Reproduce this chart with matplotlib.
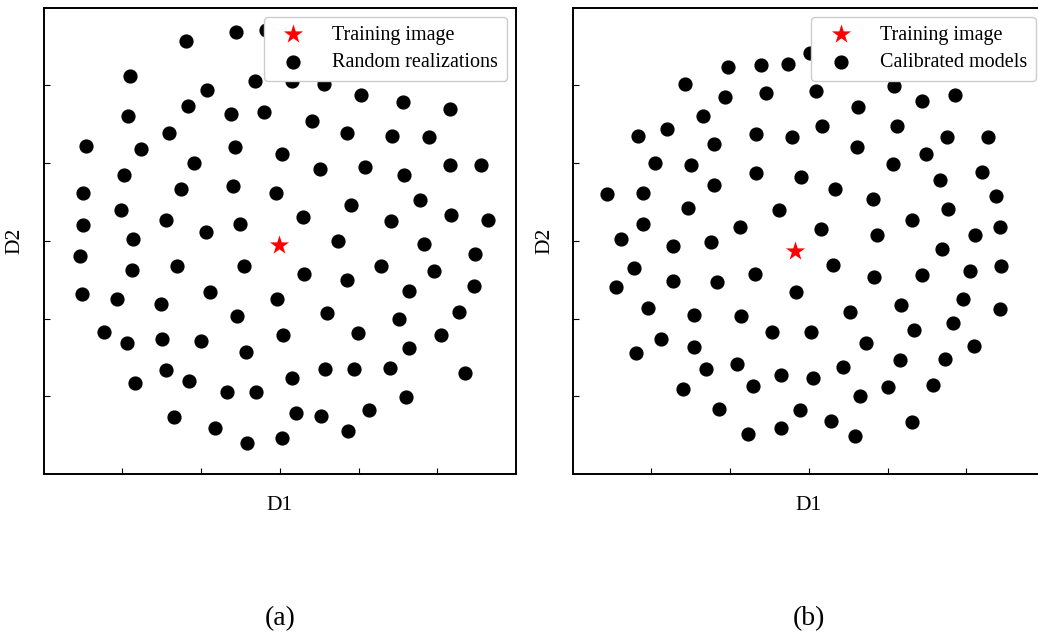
import matplotlib.pyplot as plt

plt.rcParams['font.family'] = ['Liberation Serif', 'DejaVu Serif']

# (a) random realizations, MDS coordinates
rand_d1 = [2.44, 2.83, 1.81, 1.10, 2.69, 3.16, 3.56, 4.03, 4.56, 5.16,
           2.07, 1.83, 1.07, 2.38, 2.80, 3.41, 3.86, 4.42, 4.90, 1.59,
           0.54, 1.24, 2.43, 3.03, 1.91, 3.51, 4.08, 4.58, 5.16, 5.56,
           1.02, 0.50, 1.74, 2.41, 2.95, 3.90, 4.78, 0.98, 1.55, 0.50,
           2.50, 3.30, 4.41, 5.18, 5.64, 2.06, 1.14, 3.74, 4.83, 0.46,
           5.48, 1.13, 1.69, 2.55, 3.31, 4.28, 3.86, 4.96, 0.49, 0.93,
           1.49, 2.11, 2.97, 4.64, 5.47, 2.46, 3.60, 4.51, 5.27, 0.77,
           1.06, 1.50, 2.00, 3.04, 3.99, 5.05, 2.57, 4.64, 1.56, 1.16,
           1.85, 3.16, 3.57, 3.94, 4.40, 5.35, 2.33, 2.70, 4.60, 1.66,
           3.21, 3.53, 4.13, 2.18, 2.59, 3.03, 3.87]
rand_d2 = [5.69, 5.71, 5.57, 5.12, 5.06, 5.06, 5.01, 4.87, 4.78, 4.70,
           4.94, 4.73, 4.60, 4.63, 4.66, 4.54, 4.39, 4.35, 4.34, 4.39,
           4.22, 4.18, 4.20, 4.11, 4.00, 3.92, 3.95, 3.85, 3.97, 3.97,
           3.84, 3.62, 3.66, 3.70, 3.62, 3.46, 3.52, 3.40, 3.27, 3.20,
           3.21, 3.30, 3.25, 3.33, 3.27, 3.11, 3.02, 3.00, 2.96, 2.81,
           2.83, 2.63, 2.67, 2.67, 2.57, 2.67, 2.50, 2.61, 2.31, 2.25,
           2.19, 2.34, 2.25, 2.35, 2.42, 2.03, 2.07, 1.99, 2.09, 1.83,
           1.69, 1.74, 1.71, 1.79, 1.81, 1.79, 1.57, 1.62, 1.34, 1.17,
           1.19, 1.23, 1.35, 1.35, 1.36, 1.30, 1.05, 1.06, 0.99, 0.73,
           0.79, 0.75, 0.82, 0.59, 0.40, 0.46, 0.55]

# (b) calibrated models
cal_d1 = [1.97, 2.39, 2.73, 3.01, 1.42, 1.94, 2.46, 3.09, 4.08, 3.62,
          4.44, 4.86, 1.65, 0.83, 1.20, 2.33, 2.78, 3.17, 4.12, 4.75,
          5.28, 1.79, 3.61, 4.49, 1.04, 1.50, 2.33, 2.90, 4.07, 5.20,
          4.67, 1.79, 3.33, 0.43, 0.89, 3.81, 5.38, 1.47, 2.62, 4.76,
          0.89, 2.13, 3.15, 4.31, 5.43, 0.61, 3.87, 5.11, 1.27, 1.76,
          4.69, 0.78, 3.30, 2.32, 3.83, 4.43, 5.04, 5.44, 0.55, 1.27,
          1.83, 2.83, 4.95, 0.96, 1.54, 2.14, 3.52, 4.17, 5.43, 4.83,
          2.53, 3.03, 4.34, 1.12, 1.54, 3.73, 5.09, 0.80, 1.69, 2.08,
          3.43, 4.15, 4.73, 2.65, 3.05, 1.40, 2.29, 4.01, 4.57, 3.65,
          1.86, 2.89, 3.28, 4.31, 2.22, 2.65, 3.58]
cal_d2 = [5.24, 5.26, 5.27, 5.42, 5.02, 4.85, 4.90, 4.93, 4.99, 4.72,
          4.80, 4.87, 4.61, 4.35, 4.44, 4.37, 4.33, 4.47, 4.47, 4.33,
          4.34, 4.24, 4.21, 4.11, 4.00, 3.98, 3.87, 3.82, 3.99, 3.88,
          3.78, 3.72, 3.67, 3.60, 3.62, 3.54, 3.58, 3.42, 3.39, 3.41,
          3.22, 3.18, 3.15, 3.27, 3.18, 3.02, 3.07, 3.08, 2.93, 2.98,
          2.89, 2.65, 2.69, 2.57, 2.54, 2.56, 2.61, 2.67, 2.40, 2.48,
          2.47, 2.34, 2.25, 2.13, 2.05, 2.03, 2.08, 2.18, 2.12, 1.94,
          1.83, 1.83, 1.85, 1.73, 1.63, 1.68, 1.65, 1.56, 1.35, 1.42,
          1.38, 1.46, 1.48, 1.27, 1.23, 1.09, 1.13, 1.12, 1.14, 1.00,
          0.84, 0.82, 0.68, 0.67, 0.51, 0.59, 0.49]

# training image position in each panel
ti_a = (2.99, 2.95)
ti_b = (2.82, 2.87)

panels = [
    (rand_d1, rand_d2, ti_a, 'Random realizations', '(a)'),
    (cal_d1, cal_d2, ti_b, 'Calibrated models', '(b)'),
]

fig = plt.figure(figsize=(10.38, 6.37), dpi=100)
W, H = 1038, 637
lefts = [43.5, 572.7]

for (d1, d2, ti, lab, tag), left in zip(panels, lefts):
    ax = fig.add_axes([left / W, (H - 474) / H, 472.5 / W, 466.5 / H])
    ax.scatter(d1, d2, s=85, c='black', zorder=2, label=lab)
    ax.scatter([ti[0]], [ti[1]], s=210, c='red', marker='*', zorder=3,
               label='Training image', linewidths=0)
    ax.set_xlim(0, 6)
    ax.set_ylim(0, 6)
    ax.set_xticks([1, 2, 3, 4, 5])
    ax.set_yticks([1, 2, 3, 4, 5])
    ax.set_xticklabels([])
    ax.set_yticklabels([])
    ax.tick_params(direction='in', length=4, width=0.8)
    for sp in ax.spines.values():
        sp.set_linewidth(1.4)
    ax.set_xlabel('D1', fontsize=15.5, labelpad=12)
    ax.set_ylabel('D2', fontsize=15.5, labelpad=10)

    h, l = ax.get_legend_handles_labels()
    ax.legend(h[::-1], l[::-1], loc='upper right', fontsize=14.5,
              handlelength=2.0, handletextpad=0.95, labelspacing=0.4,
              borderpad=0.45, borderaxespad=0.45, framealpha=1.0)

    ax.text(0.5, -0.31, tag, transform=ax.transAxes, ha='center',
            va='center', fontsize=20)

fig.savefig('out.png', dpi=100)
